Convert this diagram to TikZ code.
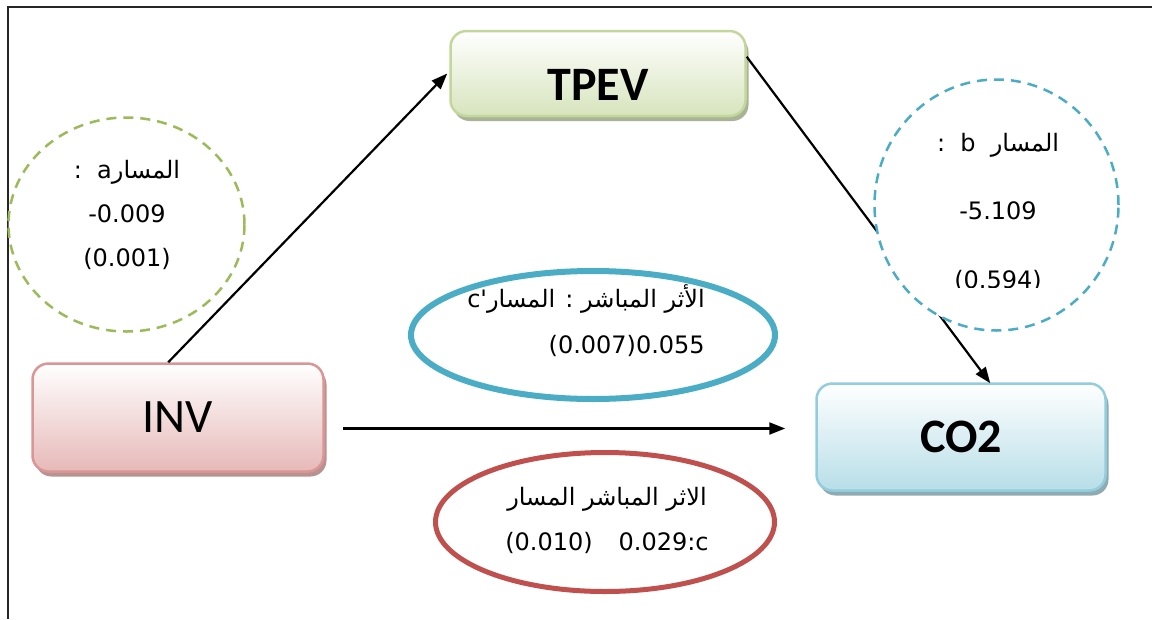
\documentclass[tikz,border=0pt]{standalone}
\usepackage{fontspec}
\usetikzlibrary{shapes.geometric,shadows,calc,arrows.meta}
\TeXXeTstate=1
\newfontfamily\arabicfont[Script=Arabic]{DejaVu Sans}
\newfontfamily\numfont{DejaVu Sans}
\newfontfamily\boxfont{Carlito}
\definecolor{tpevline}{HTML}{C3D69B}
\definecolor{tpevfill}{HTML}{D7E4BD}
\definecolor{tpevshadow}{HTML}{A9B396}
\definecolor{invline}{HTML}{D99694}
\definecolor{invfill}{HTML}{E6B9B8}
\definecolor{invshadow}{HTML}{B89291}
\definecolor{coline}{HTML}{93CDDD}
\definecolor{cofill}{HTML}{B7DEE8}
\definecolor{coshadow}{HTML}{8EAAB3}
\definecolor{pathA}{HTML}{9BBB59}
\definecolor{pathB}{HTML}{4BACC6}
\definecolor{directred}{HTML}{C0504D}
\begin{document}
\begin{tikzpicture}[x=1pt,y=-1pt,
  varbox/.style={draw, line width=2.5pt, rounded corners=16pt, inner sep=0pt,
    font=\boxfont\fontsize{48}{52}\selectfont},
  conn/.style={line width=2.2pt, -{Triangle[length=16pt,width=12pt]}},
  pathring/.style={ellipse, draw, fill=white, line width=2.5pt,
    dash pattern=on 10pt off 7pt, inner sep=0pt},
  effectring/.style={ellipse, draw, fill=white, inner sep=0pt},
  ringtext/.style={inner sep=0pt, text=black}]
\useasboundingbox (0,0) rectangle (1152,619);

% outer frame (top and left rules)
\draw[line width=2.5pt, black!85] (8,619) -- (8,7) -- (1152,7);

% variable boxes
\node[varbox, draw=tpevline, top color=white, bottom color=tpevfill,
  minimum width=295pt, minimum height=85pt,
  drop shadow={shadow xshift=3pt, shadow yshift=-5pt, fill=tpevshadow, opacity=1}]
  (tpev) at (598,73.5) {\raisebox{-11pt}[\height][0pt]{\bfseries TPEV}};
\node[varbox, draw=invline, top color=white, bottom color=invfill,
  minimum width=291pt, minimum height=108pt,
  drop shadow={shadow xshift=3pt, shadow yshift=-5pt, fill=invshadow, opacity=1}]
  (inv) at (178,417.5) {INV};
\node[varbox, draw=coline, top color=white, bottom color=cofill,
  minimum width=289pt, minimum height=107pt,
  drop shadow={shadow xshift=3pt, shadow yshift=-5pt, fill=coshadow, opacity=1}]
  (co2) at (961,437) {\bfseries CO2};

% paths between the variables
\coordinate (a1s) at ($(inv.north west)+(137,0)$);
\draw[conn] (a1s) -- ([xshift=-2pt]tpev.west);
\coordinate (a2s) at ($(tpev.north east)+(0,27)$);
\coordinate (a2e) at ($(co2.north west)+(175,1)$);
\draw[conn] (a2s) -- (a2e);
\coordinate (a3s) at ($(inv.east)+(18,11)$);
\draw[conn] (a3s) -- ([xshift=-30pt]a3s -| co2.west);

% path a
\node[pathring, draw=pathA, minimum width=236pt, minimum height=214pt] (pa) at (126.5,224.5) {};
\node[ringtext, align=center, font=\fontsize{24}{44}\selectfont] (pat) at (127,215)
  {{\arabicfont\beginR المسار\beginL a\endL\ \ :\endR}\\
   {\numfont -\kern0pt 0.009}\\
   {\numfont (0.001)}};

% path b
\node[pathring, draw=pathB, minimum width=244pt, minimum height=251pt] (pb) at (996.5,205) {};
\begin{scope}
  \clip (860,60) rectangle (1140,287);
  \node[ringtext, align=center, font=\fontsize{24}{68.5}\selectfont] (pbt) at (998,212)
    {{\arabicfont\beginR المسار\ \ \beginL b\endL\ \ :\endR}\\
     {\numfont -\kern0pt 5.109}\\
     {\numfont (0.594)}};
\end{scope}

% direct effect c'
\node[effectring, draw=pathB, line width=6pt, minimum width=364pt, minimum height=128pt] (cp) at (593,335) {};
\node[ringtext, align=right, anchor=east, font=\fontsize{24}{46}\selectfont] (cpt) at (705,321)
  {{\arabicfont\beginR الأثر المباشر : المسار\beginL c'\endL\endR}\\
   {\numfont (0.007)0.055}};

% direct effect c
\node[effectring, draw=directred, line width=5pt, minimum width=339pt, minimum height=139pt] (cd) at (605,522) {};
\node[ringtext, align=center, font=\fontsize{24}{45}\selectfont] (cdt) at (607,520)
  {{\arabicfont\beginR الاثر المباشر المسار\endR}\\
   {\numfont (0.010)\hspace*{26pt}0.029:c}};
\end{tikzpicture}
\end{document}
